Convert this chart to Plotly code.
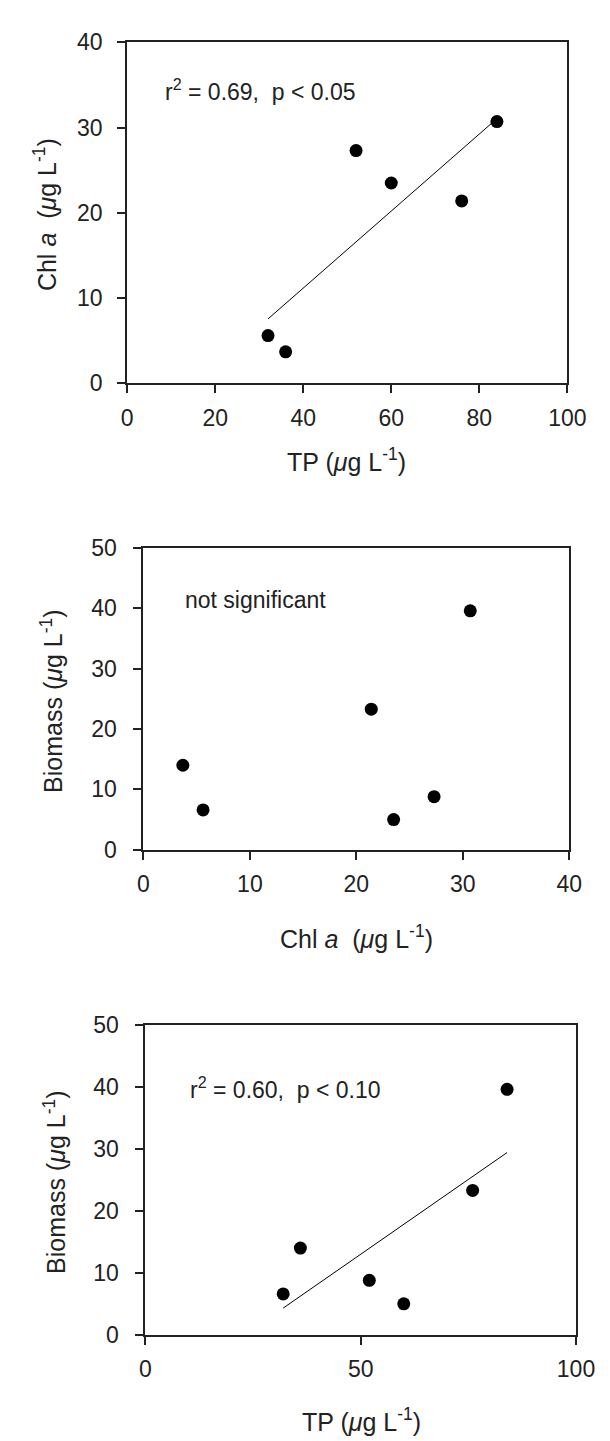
import numpy as np
import plotly.graph_objects as go

# ---- data ----
tp = [32, 36, 52, 60, 76, 84]                 # TP (ug/L)
chl = [5.6, 3.7, 27.3, 23.5, 21.4, 30.7]      # Chl a (ug/L)
biomass = [6.6, 14.0, 8.8, 5.0, 23.3, 39.6]   # Biomass (ug/L)

top_ticks_x = [0, 20, 40, 60, 80, 100]
top_ticks_y = [0, 10, 20, 30, 40]
mid_ticks_x = [0, 10, 20, 30, 40]
mid_ticks_y = [0, 10, 20, 30, 40, 50]
bot_ticks_x = [0, 50, 100]
bot_ticks_y = [0, 10, 20, 30, 40, 50]

stat_top = "r<sup>2</sup> = 0.69,&nbsp; p &lt; 0.05"
stat_mid = "not significant"
stat_bot = "r<sup>2</sup> = 0.60,&nbsp; p &lt; 0.10"

W, H = 610, 1441
FONT = "Arial, Liberation Sans, sans-serif"


def px_x(p):
    return p / W


def px_y(p):
    return 1 - p / H


fig = go.Figure()

# regression lines from data
fit1 = np.polyfit(tp, chl, 1)
fit3 = np.polyfit(tp, biomass, 1)
xl = [min(tp), max(tp)]

line_style = dict(color="black", width=1)
marker_style = dict(color="black", size=13, symbol="circle")

fig.add_trace(go.Scatter(x=xl, y=list(np.polyval(fit1, xl)), mode="lines",
                         line=line_style, xaxis="x", yaxis="y", showlegend=False))
fig.add_trace(go.Scatter(x=tp, y=chl, mode="markers", marker=marker_style,
                         xaxis="x", yaxis="y", showlegend=False, cliponaxis=False))

fig.add_trace(go.Scatter(x=chl, y=biomass, mode="markers", marker=marker_style,
                         xaxis="x2", yaxis="y2", showlegend=False, cliponaxis=False))

fig.add_trace(go.Scatter(x=xl, y=list(np.polyval(fit3, xl)), mode="lines",
                         line=line_style, xaxis="x3", yaxis="y3", showlegend=False))
fig.add_trace(go.Scatter(x=tp, y=biomass, mode="markers", marker=marker_style,
                         xaxis="x3", yaxis="y3", showlegend=False, cliponaxis=False))

tickfont = dict(family=FONT, size=23, color="#222")
common = dict(showgrid=False, zeroline=False, showline=True, linecolor="#222",
              linewidth=2, mirror=True, ticks="outside", ticklen=8, tickwidth=1.5,
              tickcolor="#222", tickfont=tickfont, fixedrange=True)

fig.update_layout(
    xaxis=dict(domain=[px_x(118), px_x(577)], range=[0, 100], tickvals=top_ticks_x,
               anchor="y", ticklabelstandoff=5, **common),
    yaxis=dict(domain=[px_y(369), px_y(21.7)], range=[0, 40], tickvals=top_ticks_y,
               anchor="x", ticklabelstandoff=10, **common),
    xaxis2=dict(domain=[px_x(135), px_x(579)], range=[0, 40], tickvals=mid_ticks_x,
                anchor="y2", ticklabelstandoff=5, **common),
    yaxis2=dict(domain=[px_y(844), px_y(536.7)], range=[0, 50], tickvals=mid_ticks_y,
                anchor="x2", ticklabelstandoff=12, **common),
    xaxis3=dict(domain=[px_x(137), px_x(586)], range=[0, 100], tickvals=bot_ticks_x,
                anchor="y3", ticklabelstandoff=5, **common),
    yaxis3=dict(domain=[px_y(1338), px_y(1022.3)], range=[0, 50], tickvals=bot_ticks_y,
                anchor="x3", ticklabelstandoff=12, **common),
    width=W, height=H,
    margin=dict(l=0, r=0, t=0, b=0),
    paper_bgcolor="white", plot_bgcolor="white",
    showlegend=False,
)

sfont = dict(family=FONT, size=23, color="#222")
tfont = dict(family=FONT, size=25, color="#222")
annos = [
    # statistics
    dict(text=stat_top, x=px_x(155), y=px_y(70), xanchor="left", yanchor="middle", font=sfont),
    dict(text=stat_mid, x=px_x(176), y=px_y(590), xanchor="left", yanchor="middle", font=sfont),
    dict(text=stat_bot, x=px_x(181), y=px_y(1087), xanchor="left", yanchor="middle", font=sfont),
    # axis titles
    dict(text="TP (<i>\u03bc</i>g L<sup>-1</sup>)", x=px_x(347), y=px_y(447),
         xanchor="center", yanchor="middle", font=tfont),
    dict(text="Chl <i>a</i>&nbsp; (<i>\u03bc</i>g L<sup>-1</sup>)", x=px_x(33), y=px_y(197),
         xanchor="center", yanchor="middle", textangle=-90, font=tfont),
    dict(text="Chl <i>a</i>&nbsp; (<i>\u03bc</i>g L<sup>-1</sup>)", x=px_x(357), y=px_y(933),
         xanchor="center", yanchor="middle", font=tfont),
    dict(text="Biomass (<i>\u03bc</i>g L<sup>-1</sup>)", x=px_x(39), y=px_y(692),
         xanchor="center", yanchor="middle", textangle=-90, font=tfont),
    dict(text="TP (<i>\u03bc</i>g L<sup>-1</sup>)", x=px_x(362), y=px_y(1425),
         xanchor="center", yanchor="middle", font=tfont),
    dict(text="Biomass (<i>\u03bc</i>g L<sup>-1</sup>)", x=px_x(42), y=px_y(1182),
         xanchor="center", yanchor="middle", textangle=-90, font=tfont),
]
for a in annos:
    a.update(xref="paper", yref="paper", showarrow=False)
    fig.add_annotation(**a)

fig.write_html("out.html")
